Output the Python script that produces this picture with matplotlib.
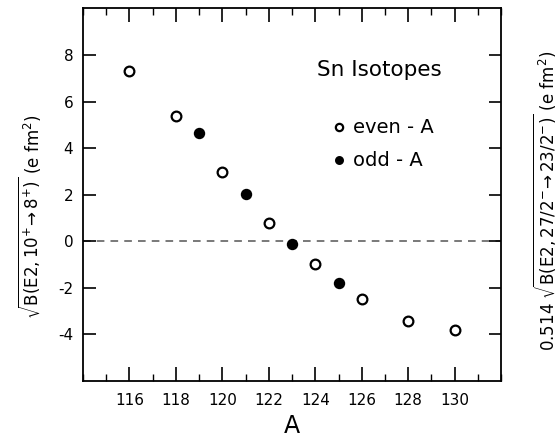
import matplotlib
matplotlib.use("Agg")
import matplotlib.pyplot as plt
from matplotlib.ticker import MultipleLocator

# Sn isotopes, reduced matrix elements
A_even = [116, 118, 120, 122, 124, 126, 128, 130]
B_even = [7.33, 5.38, 2.98, 0.79, -0.96, -2.48, -3.43, -3.83]

A_odd = [119, 121, 123, 125]
B_odd = [4.66, 2.05, -0.13, -1.81]

x_ticks = [116, 118, 120, 122, 124, 126, 128, 130]
y_ticks = [-4, -2, 0, 2, 4, 6, 8]

plt.rcParams['font.family'] = ['DejaVu Sans']
plt.rcParams['mathtext.default'] = 'regular'
plt.rcParams['axes.unicode_minus'] = False

fig = plt.figure(figsize=(5.59, 4.43), dpi=100)
ax = fig.add_axes([0.1485, 0.14, 0.748, 0.841])

ax.axhline(0, color='#555555', lw=1.1, ls=(0, (5, 4)), zorder=1)

l_even, = ax.plot(A_even, B_even, 'o', ms=7, mfc='white', mec='black', mew=1.6,
                  ls='none', zorder=3)
l_odd, = ax.plot(A_odd, B_odd, 'o', ms=7, mfc='black', mec='black', mew=1.2,
                 ls='none', zorder=3)

ax.set_xlim(114, 132)
ax.set_ylim(-6, 10)
ax.set_xticks(x_ticks)
ax.set_yticks(y_ticks)
ax.xaxis.set_minor_locator(MultipleLocator(1))

ax.tick_params(which='both', direction='in', top=True, right=True,
               labelsize=11, width=1.2)
ax.tick_params(axis='x', which='major', length=10, pad=9)
ax.tick_params(axis='x', which='minor', length=5, width=1)
ax.tick_params(axis='y', which='major', length=9, pad=7)
for s in ax.spines.values():
    s.set_linewidth(1.3)

ax.set_xlabel('A', fontsize=17, labelpad=4)

ax.text(0.708, 0.834, 'Sn Isotopes', transform=ax.transAxes,
        fontsize=15.5, ha='center', va='center')

ax.legend([l_even, l_odd], ['even - A', 'odd - A'], frameon=False,
          loc='upper left', bbox_to_anchor=(0.598, 0.705), markerscale=0.75,
          handlelength=0.6, handletextpad=0.45, fontsize=14, labelspacing=0.72,
          borderaxespad=0, borderpad=0)

fig.text(0.052, 0.51, r'$\sqrt{B(E2,10^{+}\!\rightarrow 8^{+})}$ (e fm$^{2}$)',
         rotation=90, ha='center', va='center', fontsize=12)
fig.text(0.975, 0.546,
         r'0.514 $\sqrt{B(E2,27/2^{-}\!\rightarrow 23/2^{-})}$ (e fm$^{2}$)',
         rotation=90, ha='center', va='center', fontsize=12)

fig.savefig('out.png', dpi=100)
